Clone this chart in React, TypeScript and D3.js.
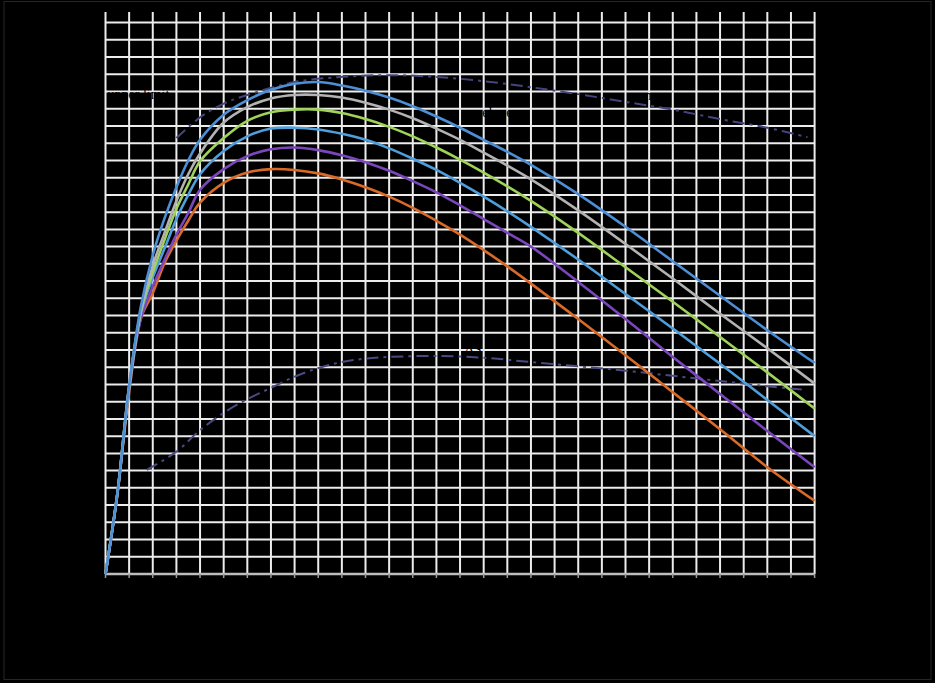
import React, { useEffect } from "react";
import * as d3 from "d3";

// shared x positions (grid units) for all six curves
const xs = [0, 0.5, 1, 1.5, 2, 2.5, 3, 3.5, 4, 5, 6, 7, 8, 9, 10, 11, 12, 13, 14, 15, 16, 17, 18, 20, 22, 24, 26, 28, 30];

const blueVals = [0, 9.3, 21.9, 31.1, 37.0, 41.3, 44.9, 48.0, 50.4, 53.3, 55.0, 56.2, 56.9, 57.1, 56.7, 56.1, 55.3, 54.3, 53.1, 51.8, 50.4, 49.0, 47.5, 44.1, 40.3, 36.3, 32.3, 28.3, 24.5];
const grayVals = [0, 9.3, 21.8, 30.6, 35.8, 39.6, 43.3, 46.4, 48.8, 52.4, 54.2, 55.2, 55.6, 55.6, 55.3, 54.7, 53.9, 52.9, 51.7, 50.4, 48.9, 47.4, 45.8, 42.2, 38.3, 34.3, 30.2, 26.2, 22.1];
const greenVals = [0, 9.3, 21.7, 30.5, 35.0, 38.8, 42.4, 45.2, 47.9, 50.6, 52.6, 53.6, 53.9, 53.9, 53.5, 52.8, 51.9, 50.8, 49.5, 48.1, 46.6, 45.0, 43.3, 39.6, 35.6, 31.6, 27.5, 23.4, 19.2];
const skyVals = [0, 9.3, 21.6, 30.3, 34.4, 37.8, 41.2, 44.0, 46.4, 49.1, 50.8, 51.7, 51.8, 51.6, 51.1, 50.4, 49.4, 48.2, 46.9, 45.4, 43.8, 42.1, 40.3, 36.5, 32.5, 28.5, 24.4, 20.2, 16.0];
const purpleVals = [0, 9.2, 21.4, 29.7, 33.4, 36.5, 39.4, 41.9, 44.6, 47.0, 48.5, 49.3, 49.5, 49.2, 48.6, 47.8, 46.8, 45.6, 44.3, 42.8, 41.2, 39.6, 38.0, 33.9, 29.6, 25.2, 20.9, 16.6, 12.4];
const orangeVals = [0, 9.2, 21.1, 29.7, 32.6, 36.1, 38.7, 41.0, 43.1, 45.4, 46.6, 47.0, 46.9, 46.5, 45.8, 44.9, 43.8, 42.5, 41.0, 39.4, 37.6, 35.7, 33.7, 29.6, 25.4, 21.1, 16.8, 12.4, 8.5];

// upper dash-dot envelope
const upperX = [3, 4, 5, 6, 8, 10, 12, 14, 16, 18, 20, 22, 24, 26, 28, 29.7];
const upperVals = [50.6, 53.0, 54.6, 55.6, 57.1, 57.7, 57.9, 57.7, 57.2, 56.5, 55.7, 54.8, 53.9, 52.8, 51.8, 50.7];

// lower dash-dot line
const lowerX = [1.75, 3, 4, 5, 6, 7, 8, 9, 10, 11, 12, 14, 16, 18, 20, 22, 24, 26, 28, 29.5];
const lowerVals = [12.1, 14.2, 16.7, 18.7, 20.3, 21.6, 22.9, 23.9, 24.6, 25.0, 25.2, 25.3, 25.1, 24.6, 24.1, 23.6, 23.0, 22.4, 21.8, 21.4];

const xTicks = d3.range(0, 31, 1);
const yTicks = d3.range(0, 65, 2);

const series = [
  { name: "S6", color: "#d96a28", vals: orangeVals },
  { name: "S5", color: "#7a46bb", vals: purpleVals },
  { name: "S4", color: "#4f9fdd", vals: skyVals },
  { name: "S3", color: "#9fd35a", vals: greenVals },
  { name: "S2", color: "#b3b3b3", vals: grayVals },
  { name: "S1", color: "#4d8fd6", vals: blueVals },
];

export default function App() {
  useEffect(() => {
    document.body.style.margin = "0";
    document.body.style.background = "#000";
  }, []);

  const width = 935;
  const height = 683;
  const x = d3.scaleLinear().domain([0, 30]).range([105.5, 814.6]);
  const y = d3.scaleLinear().domain([0, 65]).range([574, 14]);

  const line = d3
    .line<[number, number]>()
    .x((d) => x(d[0]))
    .y((d) => y(d[1]))
    .curve(d3.curveCatmullRom.alpha(0.5));

  const pts = (xv: number[], yv: number[]) => xv.map((v, i) => [v, yv[i]] as [number, number]);

  return (
    <svg width={width} height={height} style={{ display: "block", background: "#000" }} fontFamily="Liberation Serif, serif">
      <rect x={0} y={0} width={width} height={height} fill="#000" />
      <rect x={4} y={1.5} width={927} height={678} fill="none" stroke="#262626" strokeWidth={1} />

      {/* grid */}
      <g stroke="#ececec" strokeWidth={2}>
        {yTicks.map((t) => (
          <line key={"h" + t} x1={x(0)} x2={x(30)} y1={y(t)} y2={y(t)} />
        ))}
        {xTicks.map((t) => (
          <line key={"v" + t} x1={x(t)} x2={x(t)} y1={y(65) - 2} y2={y(0)} />
        ))}
      </g>
      <line x1={x(0)} x2={x(30)} y1={y(0)} y2={y(0)} stroke="#bdbdbd" strokeWidth={2.5} />
      <g stroke="#9a9a9a" strokeWidth={1.5}>
        {xTicks.map((t) => (
          <line key={"bt" + t} x1={x(t)} x2={x(t)} y1={y(0)} y2={y(0) + 4} />
        ))}
      </g>

      {/* tick labels (black, as in the original) */}
      <g fill="#000" fontSize={13}>
        {xTicks.filter((t) => t % 2 === 0).map((t) => (
          <text key={"xl" + t} x={x(t)} y={y(0) + 20} textAnchor="middle">{t}</text>
        ))}
        {yTicks.filter((t) => t % 4 === 0).map((t) => (
          <text key={"yl" + t} x={x(0) - 8} y={y(t) + 4} textAnchor="end">{t}</text>
        ))}
      </g>

      {/* dash-dot reference lines */}
      <path d={line(pts(upperX, upperVals)) || ""} fill="none" stroke="#44447e" strokeWidth={2} strokeDasharray="12 5 3 5" />
      <path d={line(pts(lowerX, lowerVals)) || ""} fill="none" stroke="#4a4a82" strokeWidth={2} strokeDasharray="12 5 3 5" />

      {/* curves */}
      {series.map((s) => (
        <path key={s.name} d={line(pts(xs, s.vals)) || ""} fill="none" stroke={s.color} strokeWidth={2.6} />
      ))}

      {/* annotations (black, as in the original) */}
      <g fill="#000" fontSize={14}>
        <text x={x(0) + 2} y={y(55.7) + 5}>upper limit</text>
        <text x={x(15) + 2} y={y(53.6) + 5}>envelope</text>
        <text x={x(22.8)} y={y(55.6) + 5}>max</text>
        <text x={x(15.2)} y={y(26) + 4}>ΔS</text>
      </g>
    </svg>
  );
}
